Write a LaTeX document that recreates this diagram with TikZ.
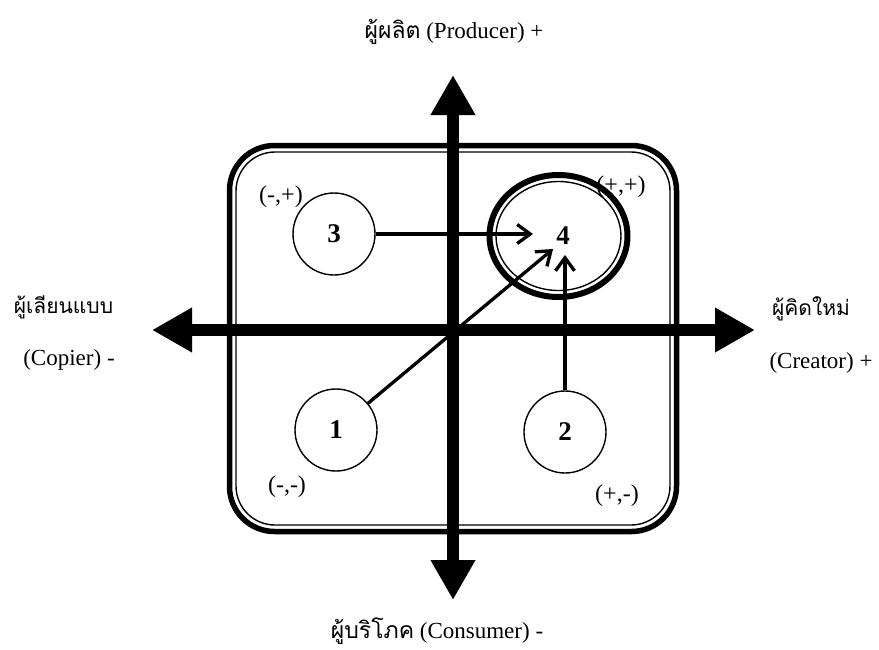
\documentclass[tikz,border=0pt]{standalone}
\usepackage{fontspec}
\setmainfont{Liberation Serif}
\newfontfamily\thaifont[Script=Thai]{Loma}
\usetikzlibrary{arrows.meta}
\begin{document}
\begin{tikzpicture}[x=1pt,y=-1pt,
  lbl/.style={font=\fontsize{23}{25}\selectfont, inner sep=0pt},
  thai/.style={font=\thaifont\fontsize{21}{24}\selectfont, inner sep=0pt},
  quad/.style={font=\fontsize{24}{26}\selectfont, inner sep=0pt},
  numcirc/.style={circle, draw, line width=1.4pt, fill=white, minimum size=82pt, inner sep=0pt, font=\bfseries\fontsize{27}{29}\selectfont},
  numtext/.style={inner sep=0pt, font=\bfseries\fontsize{27}{29}\selectfont},
  axisline/.style={line width=12pt, arrows={Triangle[length=40pt,width=42pt]-Triangle[length=40pt,width=42pt]}},
  arr/.style={line width=3.3pt, -{Straight Barb[length=13pt,width=19pt]}},
  frameouter/.style={line width=5.5pt, rounded corners=45pt},
  frameinner/.style={line width=1.4pt, rounded corners=39pt}
]
\useasboundingbox (0,0) rectangle (879,649);
% frame
\draw[frameouter] (229.5,145.5) rectangle (676.5,531.5);
\draw[frameinner] (236,152) rectangle (670,525);
% axes
\coordinate (vtop) at (453,75);
\coordinate (vbot) at (453,600);
\coordinate (hleft) at (152,330);
\coordinate (hright) at (755,330);
\draw[axisline] (vbot) -- (vtop);
\draw[axisline] (hleft) -- (hright);
% ellipse 4
\coordinate (e4) at (558.5,236);
\draw[line width=6pt, fill=white] (e4) ellipse [x radius=69, y radius=61];
\draw[line width=1.4pt] (e4) ellipse [x radius=62.5, y radius=54.5];
\node[numtext] (n4) at (563,236) {4};
% circles
\node[numcirc] (c3) at (334,234) {3};
\node[numcirc] (c1) at (336,430) {1};
\node[numcirc] (c2) at (565,432) {2};
% arrows
\coordinate (t3) at (533,234);
\coordinate (t1) at (553,249);
\coordinate (t2) at (565,255);
\draw[arr] (c3) -- (t3);
\draw[arr] (c1) -- (t1);
\draw[arr] (c2) -- (t2);
% quadrant labels
\node[quad] (qa) at (281,197) {(-,+)};
\node[quad] (qb) at (621,187) {(+,+)};
\node[quad] (qc) at (287,487) {(-,-)};
\node[quad] (qd) at (617,496) {(+,-)};
% axis labels
\node[lbl, anchor=base] (top) at (454,38) {{\thaifont ผู้ผลิต} (Producer) +};
\node[lbl, anchor=base] (bot) at (437,638) {{\thaifont ผู้บริโภค} (Consumer) -};
\node[thai, anchor=base] (lthai) at (63.5,313) {ผู้เลียนแบบ};
\node[lbl, anchor=base] (llat) at (69,365) {(Copier) -};
\node[thai, anchor=base] (rthai) at (811,315) {ผู้คิดใหม่};
\node[lbl, anchor=base] (rlat) at (821,368) {(Creator) +};
\end{tikzpicture}
\end{document}
